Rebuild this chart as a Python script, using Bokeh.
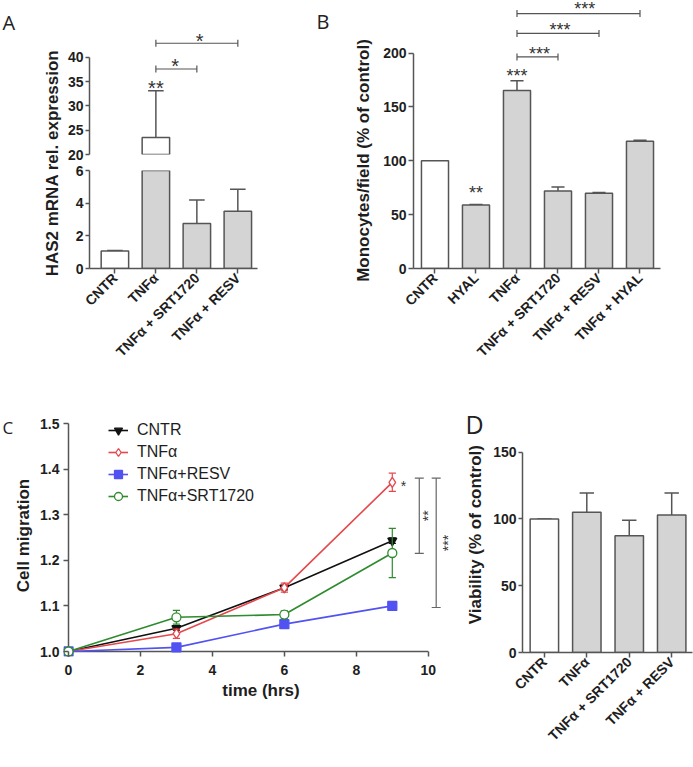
from math import pi
from bokeh.plotting import figure
from bokeh.layouts import row, column
from bokeh.models import Range1d, FixedTicker, Legend, LegendItem, PrintfTickFormatter
from bokeh.core.properties import value
from bokeh.embed import file_html
from bokeh.resources import INLINE

# ---------------- data ----------------
# Panel A: HAS2 mRNA relative expression (broken y axis)
A_groups = ["CNTR", "TNFα", "TNFα + SRT1720", "TNFα + RESV"]
A_mean = [1.07, 23.5, 2.75, 3.5]
A_sem = [0.03, 9.6, 1.45, 1.35]
A_lower_ticks = [0, 2, 4, 6]
A_upper_ticks = [20, 25, 30, 35, 40]
A_br_x0 = [2, 2]
A_br_x1 = [3, 4]
A_br_y = [37.6, 42.9]
A_star_text = ["**", "*", "*"]
A_star_x = [2, 2.47, 3.07]
A_star_y = [34.4, 39.0, 44.15]
A_ylabel = "HAS2 mRNA rel. expression"

# Panel B: monocytes / field
B_groups = ["CNTR", "HYAL", "TNFα", "TNFα + SRT1720", "TNFα + RESV", "TNFα + HYAL"]
B_mean = [100, 59, 165.3, 72, 70, 118.2]
B_sem = [0, 0.5, 9, 3.7, 0.6, 1.0]
B_ticks = [0, 50, 100, 150, 200]
B_br_x0 = [3, 3, 3]
B_br_x1 = [4, 5, 6]
B_br_y = [196.5, 218.3, 236.8]
B_star_text = ["**", "***", "***", "***", "***"]
B_star_x = [2, 3, 3.55, 4.05, 4.65]
B_star_y = [73.4, 181.7, 202.8, 224.4, 244.0]
B_ylabel = "Monocytes/field (% of control)"

# Panel C: cell migration over time
C_time = [0, 3, 6, 9]
C_names = ["CNTR", "TNFα", "TNFα+RESV", "TNFα+SRT1720"]
C_cntr = [1.0, 1.051, 1.14, 1.243]
C_cntr_sem = [0, 0.004, 0.005, 0.006]
C_tnf = [1.0, 1.039, 1.14, 1.371]
C_tnf_sem = [0, 0.01, 0.01, 0.02]
C_resv = [1.0, 1.009, 1.06, 1.10]
C_resv_sem = [0, 0.003, 0.004, 0.004]
C_srt = [1.0, 1.075, 1.081, 1.216]
C_srt_sem = [0, 0.015, 0.008, 0.054]
C_xticks = [0, 2, 4, 6, 8, 10]
C_yticks = [1.0, 1.1, 1.2, 1.3, 1.4, 1.5]
C_br_x = [9.75, 10.22]
C_br_y0 = [1.215, 1.0965]
C_br_y1 = [1.38, 1.38]
C_star_text = ["*", "**", "***"]
C_star_x = [9.31, 9.94, 10.5]
C_star_y = [1.37, 1.2975, 1.238]
C_xlabel = "time (hrs)"
C_ylabel = "Cell migration"

# Panel D: viability
D_groups = ["CNTR", "TNFα", "TNFα + SRT1720", "TNFα + RESV"]
D_mean = [100, 105, 87.5, 103]
D_sem = [0, 14.5, 11.5, 16.5]
D_ticks = [0, 50, 100, 150]
D_ylabel = "Viability (% of control)"

# ---------------- style ----------------
FONT = "Liberation Sans"
LETTER_FONT = "Open Sans"
AX = "#555555"
TXT = "#1e1e1e"
BAR_FILL = "#d4d4d4"
C_colors = ["#111111", "#e5484d", "#5252f2", "#2e8b2e"]
C_markers = ["inverted_triangle", "diamond", "square", "circle"]
C_fills = ["#111111", "white", "#5252f2", "white"]
C_sizes = [9, 10, 9, 9]
STAR_DY = 3.5
STAR_DX = 2
YLABEL_SIZE = 17

# advance widths of Liberation Sans Bold (= Arial Bold), per 1000 em
BOLD_W = {" ": 278, "(": 333, ")": 333, "%": 889, ".": 278, "/": 278, "2": 556,
          "A": 722, "C": 722, "H": 722, "M": 833, "N": 722, "R": 722, "S": 667,
          "V": 667, "a": 556, "b": 611, "c": 556, "d": 611, "e": 556, "f": 333,
          "g": 611, "i": 278, "l": 278, "m": 889, "n": 611, "o": 611, "p": 611,
          "r": 389, "s": 556, "t": 333, "x": 556, "y": 556}


def text_len(s, size):
    return sum(BOLD_W.get(c, 556) for c in s) * size / 1000.0


def make_fig(w, h, xr, yr, bl, br, bt, bb, xloc="below", yloc="left"):
    p = figure(width=w, height=h, x_range=Range1d(*xr), y_range=Range1d(*yr),
               output_backend="svg", toolbar_location=None, tools="",
               x_axis_location=xloc, y_axis_location=yloc,
               min_border_left=bl, min_border_right=br,
               min_border_top=bt, min_border_bottom=bb)
    p.outline_line_color = None
    p.xgrid.grid_line_color = None
    p.ygrid.grid_line_color = None
    p.background_fill_color = "white"
    p.border_fill_color = "white"
    return p


def style_axis(ax, tick_out=5):
    ax.axis_line_color = AX
    ax.axis_line_width = 1.5
    ax.major_tick_line_color = AX
    ax.major_tick_line_width = 1.5
    ax.major_tick_out = tick_out
    ax.major_tick_in = 0
    ax.minor_tick_line_color = None
    ax.major_label_text_font = FONT
    ax.major_label_text_font_style = "bold"
    ax.major_label_text_font_size = "14px"
    ax.major_label_text_color = TXT
    ax.major_label_standoff = 2
    ax.axis_label_text_font = FONT
    ax.axis_label_text_font_style = "bold"
    ax.axis_label_text_font_size = f"{YLABEL_SIZE}px"
    ax.axis_label_text_color = TXT


def cat_axis(ax, groups):
    ax.ticker = FixedTicker(ticks=list(range(1, len(groups) + 1)))
    ax.major_label_overrides = {i + 1: g for i, g in enumerate(groups)}
    ax.major_label_orientation = pi / 4


def draw_bars(p, xs, means, sems, width, cap_half, bottom=0):
    fills = ["white" if i == 0 else BAR_FILL for i in range(len(xs))]
    tops = [m + s for m, s in zip(means, sems)]
    p.segment(x0=xs, y0=means, x1=xs, y1=tops, line_color=AX, line_width=1.5)
    p.segment(x0=[x - cap_half for x in xs], y0=tops,
              x1=[x + cap_half for x in xs], y1=tops, line_color=AX, line_width=1.5)
    p.vbar(x=xs, top=means, bottom=bottom, width=width, fill_color=fills,
           line_color=AX, line_width=1.5)


def draw_brackets(p, x0, x1, y, tick_half):
    p.segment(x0=x0, y0=y, x1=x1, y1=y, line_color=AX, line_width=1.2)
    xe = list(x0) + list(x1)
    ye = list(y) + list(y)
    p.segment(x0=xe, y0=[v - tick_half for v in ye], x1=xe,
              y1=[v + tick_half for v in ye], line_color=AX, line_width=1.2)


def draw_stars(p, xs, ys, texts, size, angle=0.0, x_off=0, y_off=0):
    p.text(x=xs, y=ys, text=texts, angle=angle, text_align="center",
           text_baseline="alphabetic", text_font=value(FONT),
           text_font_size=f"{size}px", text_color="#333333",
           x_offset=x_off, y_offset=y_off)


def gutter_fig(w, h, letter, letter_size, lx, lbase, label, cx, cy):
    """Figure in pixel units (y measured down from its top) holding the panel
    letter and the vertical axis title centred on (cx, cy)."""
    p = make_fig(w, h, (0, w), (h, 0), 0, 0, 0, 0, xloc=None, yloc=None)
    p.text(x=[lx], y=[lbase], text=[letter], text_font=value(LETTER_FONT),
           text_font_size=f"{letter_size}px", text_color="#222222",
           text_baseline="alphabetic", text_align="left")
    L = text_len(label, YLABEL_SIZE)
    p.text(x=[cx], y=[cy + L / 2], text=[label], angle=pi / 2, text_align="left",
           text_baseline="middle", text_font=value(FONT), text_font_style="bold",
           text_font_size=f"{YLABEL_SIZE}px", text_color=TXT)
    return p


# ---------------- Panel A ----------------
A_x = list(range(1, len(A_groups) + 1))
gA = gutter_fig(64, 388, "A", 20, 2, 22, A_ylabel, 52, 162.5)

A_xr = (0.38, 4.48)
pAt = make_fig(236, 162, A_xr, (A_upper_ticks[0], 51.7), 22, 43, 0, 8, xloc=None)
style_axis(pAt.yaxis[0], tick_out=4)
pAt.yaxis[0].ticker = FixedTicker(ticks=A_upper_ticks)
pAt.yaxis[0].bounds = (A_upper_ticks[0], A_upper_ticks[-1])
hi = [i for i, m in enumerate(A_mean) if m > A_upper_ticks[0]]
draw_bars(pAt, [A_x[i] for i in hi], [A_mean[i] for i in hi], [A_sem[i] for i in hi],
          0.67, 0.19, bottom=A_upper_ticks[0] - 1)
draw_brackets(pAt, A_br_x0, A_br_x1, A_br_y, 0.72)
draw_stars(pAt, A_star_x, A_star_y, A_star_text, 20, y_off=STAR_DY)

pAb = make_fig(236, 226, A_xr, (A_lower_ticks[0], A_lower_ticks[-1]), 22, 43, 8, 120)
style_axis(pAb.yaxis[0], tick_out=4)
style_axis(pAb.xaxis[0])
pAb.yaxis[0].ticker = FixedTicker(ticks=A_lower_ticks)
cat_axis(pAb.xaxis[0], A_groups)
draw_bars(pAb, A_x, A_mean, A_sem, 0.67, 0.19)

# ---------------- Panel B ----------------
B_x = list(range(1, len(B_groups) + 1))
gB = gutter_fig(80, 388, "B", 20, 16, 21, B_ylabel, 63, 160)

pB = make_fig(313, 388, (0.476, 6.50), (0, 248.9), 33, 33, 0, 120)
style_axis(pB.yaxis[0])
style_axis(pB.xaxis[0])
pB.yaxis[0].ticker = FixedTicker(ticks=B_ticks)
pB.yaxis[0].bounds = (B_ticks[0], B_ticks[-1])
cat_axis(pB.xaxis[0], B_groups)
draw_bars(pB, B_x, B_mean, B_sem, 0.66, 0.16)
draw_brackets(pB, B_br_x0, B_br_x1, B_br_y, 3.25)
draw_stars(pB, B_star_x, B_star_y, B_star_text, 18, y_off=STAR_DY)

# ---------------- Panel C ----------------
gC = gutter_fig(34, 379, "C", 17, 2, 39, C_ylabel, 23, 147)

pC = make_fig(424, 379, (-0.139, 10.84), (0.98904, 1.55044), 29, 0, 12, 111)
for ax in (pC.xaxis[0], pC.yaxis[0]):
    style_axis(ax)
    ax.axis_line_color = None
    ax.major_tick_in = 5
    ax.major_tick_out = 0
pC.xaxis[0].ticker = FixedTicker(ticks=C_xticks)
pC.yaxis[0].ticker = FixedTicker(ticks=C_yticks)
pC.yaxis[0].formatter = PrintfTickFormatter(format="%.1f")
pC.yaxis[0].major_label_standoff = 4
pC.xaxis[0].major_label_standoff = 8
pC.xaxis[0].axis_label = C_xlabel
pC.xaxis[0].axis_label_standoff = 3
# axis lines drawn through the axis origin
pC.segment(x0=[C_xticks[0], C_xticks[0]], y0=[C_yticks[0], C_yticks[0]],
           x1=[C_xticks[-1], C_xticks[0]], y1=[C_yticks[0], C_yticks[-1]],
           line_color=AX, line_width=1.5)

items = []
for name, ys, es, col, mk, fc, sz in zip(
        C_names, [C_cntr, C_tnf, C_resv, C_srt],
        [C_cntr_sem, C_tnf_sem, C_resv_sem, C_srt_sem],
        C_colors, C_markers, C_fills, C_sizes):
    idx = [i for i, e in enumerate(es) if e > 0]
    ex = [C_time[i] for i in idx]
    lo = [ys[i] - es[i] for i in idx]
    up = [ys[i] + es[i] for i in idx]
    pC.segment(x0=ex, y0=lo, x1=ex, y1=up, line_color=col, line_width=1.2)
    pC.segment(x0=[x - 0.1 for x in ex] * 2, y0=lo + up,
               x1=[x + 0.1 for x in ex] * 2, y1=lo + up, line_color=col, line_width=1.2)
    lr = pC.line(C_time, ys, line_color=col, line_width=1.6)
    sr = pC.scatter(C_time, ys, marker=mk, size=sz, line_color=col, fill_color=fc,
                    line_width=1.3)
    items.append(LegendItem(label=name, renderers=[lr, sr]))

leg = Legend(items=items, location=(45, 150), orientation="vertical",
             label_text_font=FONT, label_text_font_size="16px", label_text_color=TXT,
             glyph_width=20, glyph_height=20, label_height=20, label_standoff=9,
             spacing=2, padding=0, margin=0, border_line_color=None,
             background_fill_alpha=0)
pC.add_layout(leg)

pC.segment(x0=C_br_x, y0=C_br_y0, x1=C_br_x, y1=C_br_y1, line_color="#666666", line_width=1.2)
cx = C_br_x + C_br_x
cy = C_br_y0 + C_br_y1
pC.segment(x0=[x - 0.125 for x in cx], y0=cy, x1=[x + 0.125 for x in cx], y1=cy,
           line_color="#666666", line_width=1.2)
draw_stars(pC, C_star_x[:1], C_star_y[:1], C_star_text[:1], 14, y_off=STAR_DY)
draw_stars(pC, C_star_x[1:], C_star_y[1:], C_star_text[1:], 14, angle=pi / 2, x_off=STAR_DX)

# ---------------- Panel D ----------------
D_x = list(range(1, len(D_groups) + 1))
gD = gutter_fig(32, 379, "D", 25, 7, 35, D_ylabel, 17, 146)

pD = make_fig(203, 379, (0.485, 4.49), (0, 188.7), 31, 1, 12, 115)
style_axis(pD.yaxis[0], tick_out=4)
style_axis(pD.xaxis[0])
pD.yaxis[0].ticker = FixedTicker(ticks=D_ticks)
pD.yaxis[0].bounds = (D_ticks[0], D_ticks[-1])
cat_axis(pD.xaxis[0], D_groups)
draw_bars(pD, D_x, D_mean, D_sem, 0.67, 0.17)

layout = column(
    row(column(gA), column(pAt, pAb), column(gB), column(pB)),
    row(column(gC), column(pC), column(gD), column(pD)),
)
open("out.html", "w").write(file_html(layout, INLINE))
